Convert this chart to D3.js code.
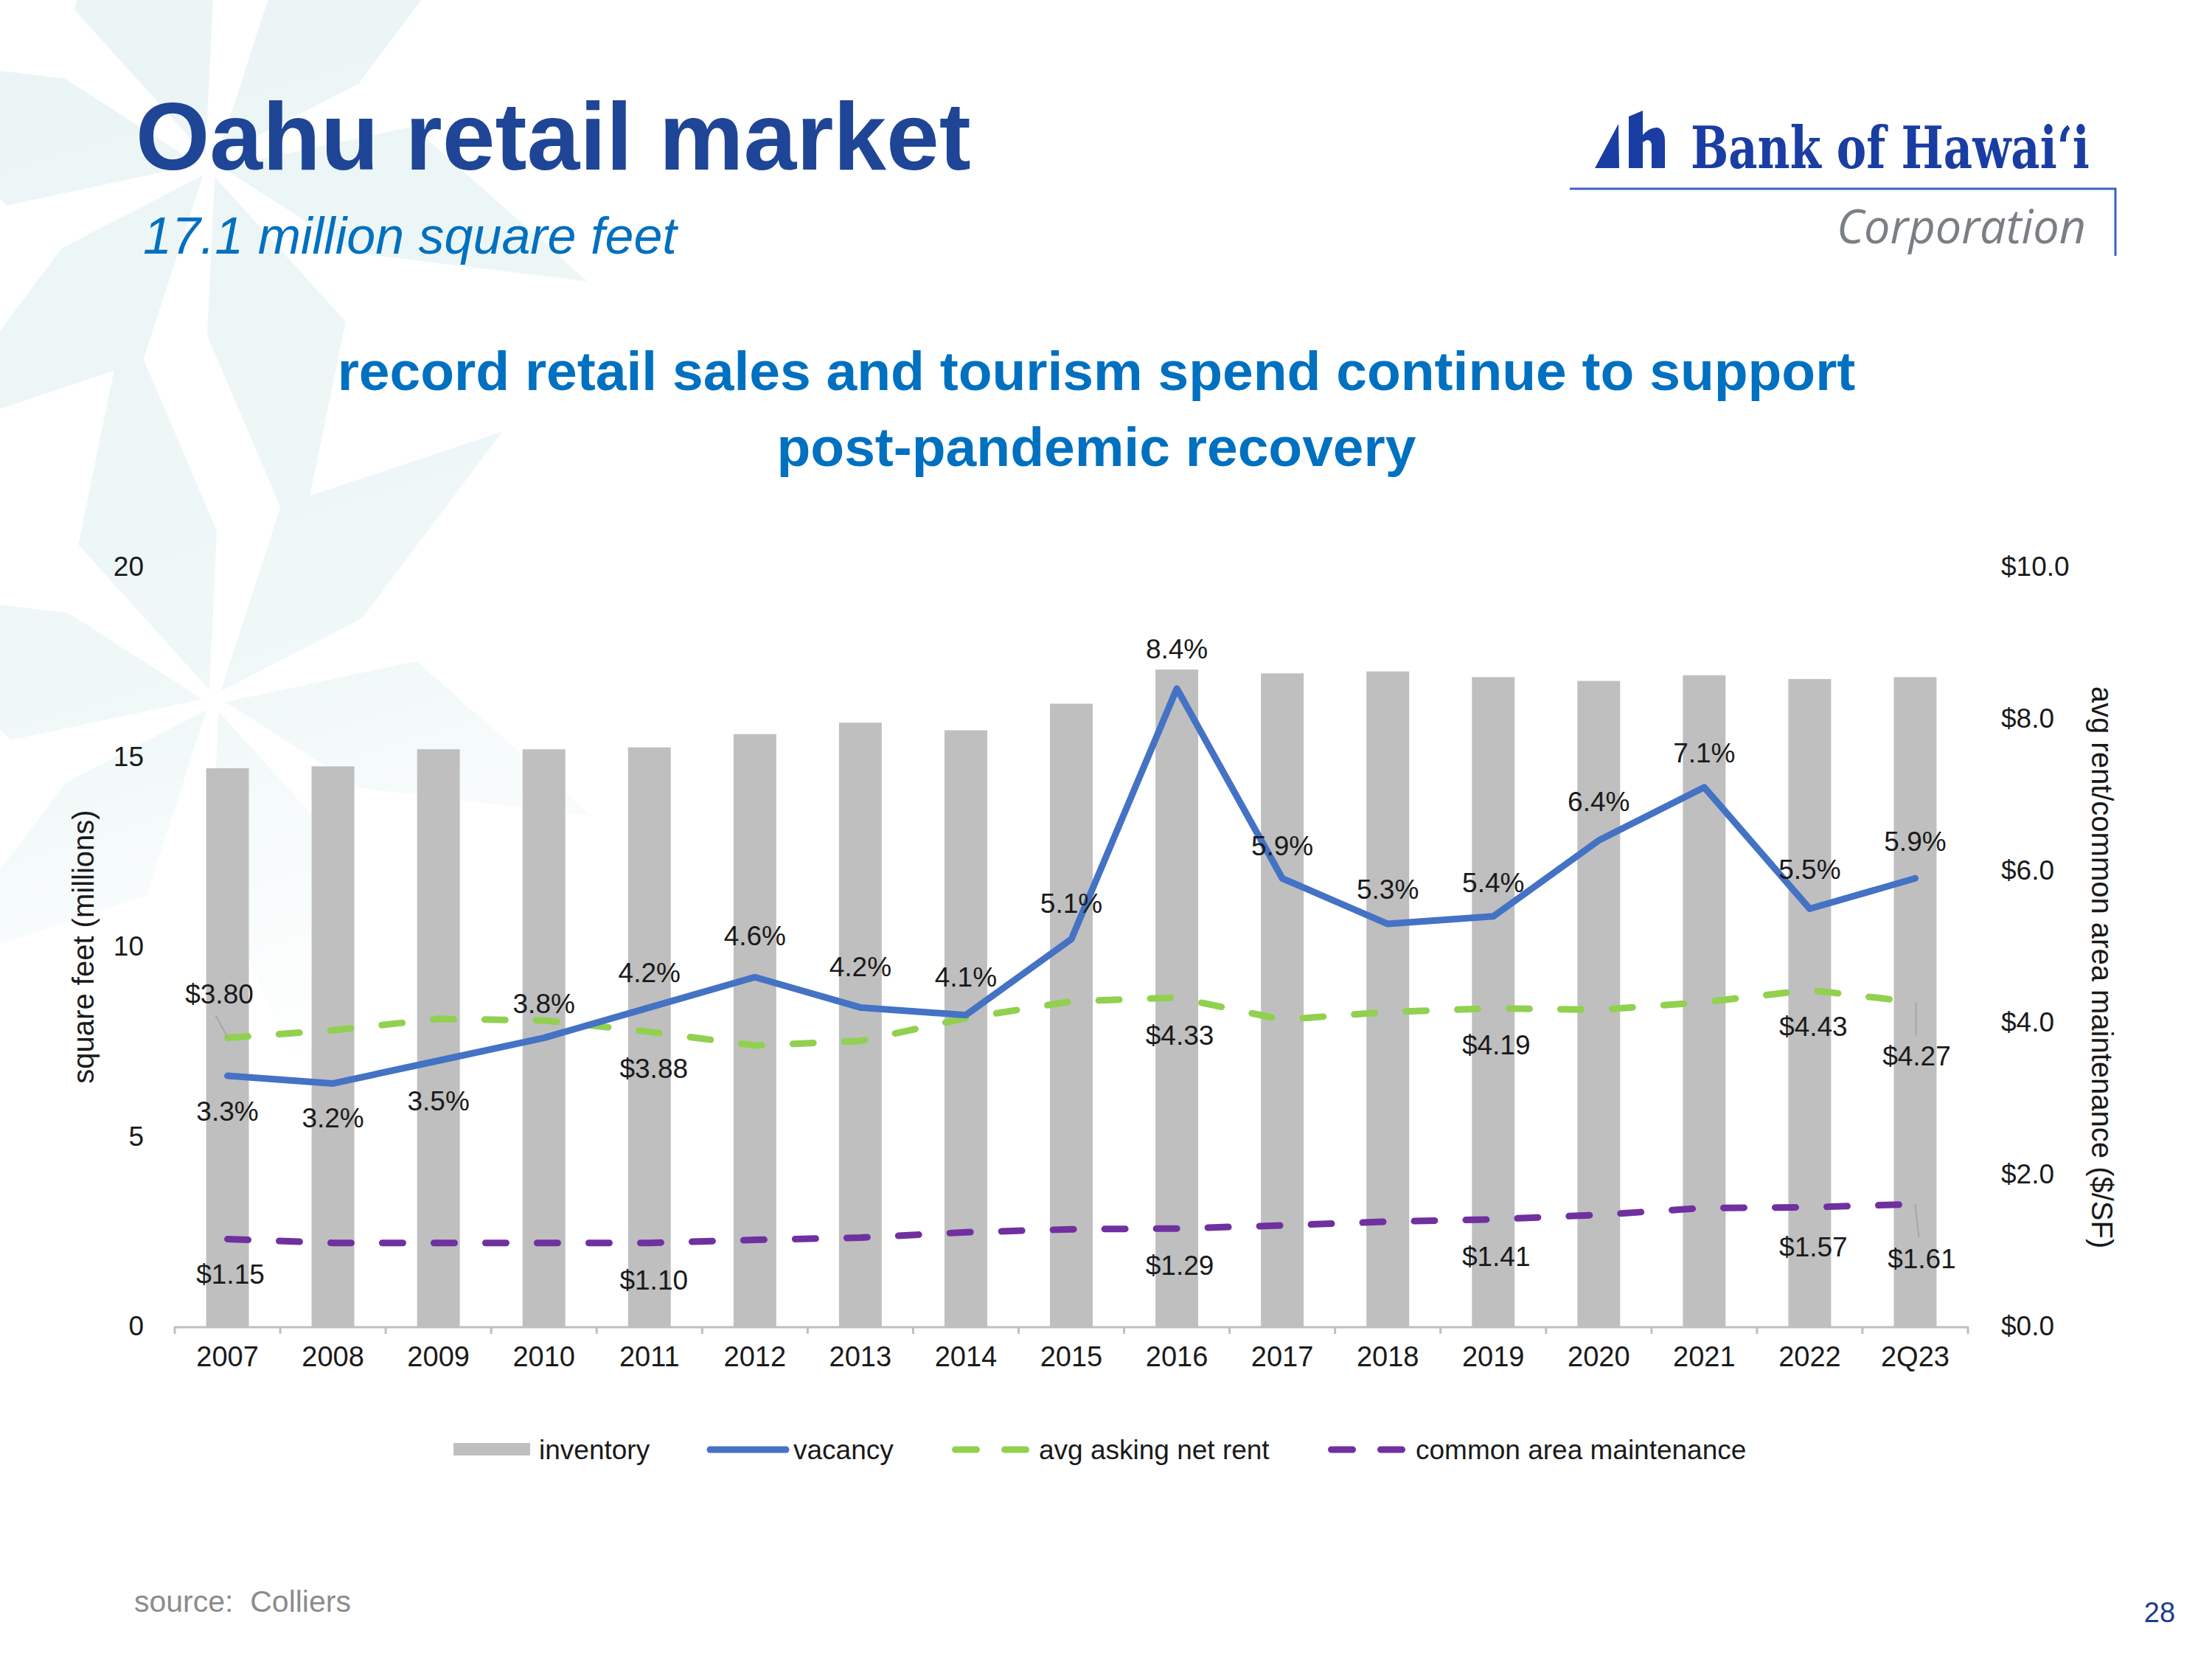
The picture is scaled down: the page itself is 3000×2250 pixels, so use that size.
<!DOCTYPE html>
<html>
<head>
<meta charset="utf-8">
<script src="https://cdn.jsdelivr.net/npm/d3@7"></script>
<style>
  html, body { margin: 0; padding: 0; background: #ffffff; }
  svg { display: block; }
  text { font-family: "Liberation Sans", Arial, sans-serif; }
</style>
</head>
<body>
<svg id="chart" width="3000" height="2250"></svg>
<script>
// ---------------- data ----------------
const categories = ["2007","2008","2009","2010","2011","2012","2013","2014","2015","2016","2017","2018","2019","2020","2021","2022","2Q23"];
const inventory  = [14.7, 14.75, 15.2, 15.2, 15.25, 15.6, 15.9, 15.7, 16.4, 17.3, 17.2, 17.25, 17.1, 17.0, 17.15, 17.05, 17.1];
const vacancy    = [3.3, 3.2, 3.5, 3.8, 4.2, 4.6, 4.2, 4.1, 5.1, 8.4, 5.9, 5.3, 5.4, 6.4, 7.1, 5.5, 5.9];
const askingRent = [3.80, 3.90, 4.05, 4.03, 3.88, 3.70, 3.76, 4.06, 4.28, 4.33, 4.04, 4.14, 4.19, 4.17, 4.27, 4.43, 4.27];
const camCost    = [1.15, 1.10, 1.10, 1.10, 1.10, 1.14, 1.17, 1.24, 1.28, 1.29, 1.33, 1.38, 1.41, 1.47, 1.56, 1.57, 1.61];
const labeledIdx = [0, 4, 9, 12, 15, 16];
const leftTicks  = [0, 5, 10, 15, 20];
const rightTicks = [0, 2, 4, 6, 8, 10];
const legendNames = ["inventory", "vacancy", "avg asking net rent", "common area maintenance"];

// ---------------- layout (not data) ----------------
const vacLabelDy  = [48, 47, 55, -46, -47, -56, -55, -51, -48, -53, -44, -47, -45, -52, -46, -53, -50];
const rentLabelOff = {0: [-11, -59], 4: [6, 50], 9: [4, 51], 12: [4, 50], 15: [5, 50], 16: [2, 73]};
const camLabelOff  = {0: [4, 48], 4: [6, 51], 9: [4, 50], 12: [4, 51], 15: [5, 54], 16: [9, 74]};

const C = {
  bar: "#bfbfbf", vac: "#4472c4", rent: "#92d050", cam: "#7030a0",
  title: "#1f4597", sub: "#0070c0", axis: "#bfbfbf", text: "#1a1a1a",
  logo: "#1a3da3"
};

const svg = d3.select("#chart");
const defs = svg.append("defs");

// ---------------- background star pattern ----------------
const fade = defs.append("linearGradient").attr("id", "fadeGrad")
  .attr("gradientUnits", "userSpaceOnUse").attr("x1", 0).attr("y1", 0).attr("x2", 450).attr("y2", 1450);
fade.append("stop").attr("offset", "0%").attr("stop-color", "#fff").attr("stop-opacity", 1);
fade.append("stop").attr("offset", "60%").attr("stop-color", "#fff").attr("stop-opacity", 0.8);
fade.append("stop").attr("offset", "100%").attr("stop-color", "#fff").attr("stop-opacity", 0);
defs.append("mask").attr("id", "fadeMask")
  .append("rect").attr("x", 0).attr("y", 0).attr("width", 1200).attr("height", 1700).attr("fill", "url(#fadeGrad)");

const bg = svg.append("g").attr("mask", "url(#fadeMask)");
function star(cx, cy) {
  d3.range(6).forEach(k => {
    const th = -67 + k * 60;
    const p = (ang, r) => [cx + r * Math.cos(ang * Math.PI / 180), cy + r * Math.sin(ang * Math.PI / 180)];
    const pts = [p(th + 14, 16), p(th - 4, 280), p(th + 24, 535), p(th + 38, 230)];
    bg.append("path").attr("d", d3.line()(pts) + "Z").attr("fill", "#ebf5f5");
  });
}
star(285, 225);
star(290, 950);

// ---------------- header ----------------
svg.append("text").attr("x", 184).attr("y", 230)
  .attr("font-size", 129).attr("font-weight", "bold").attr("fill", C.title)
  .text("Oahu retail market");
svg.append("text").attr("x", 194).attr("y", 344)
  .attr("font-size", 70).attr("font-style", "italic").attr("fill", C.sub)
  .text("17.1 million square feet");
svg.append("text").attr("x", 1487).attr("y", 529).attr("text-anchor", "middle")
  .attr("font-size", 75).attr("font-weight", "bold").attr("fill", C.sub)
  .text("record retail sales and tourism spend continue to support");
svg.append("text").attr("x", 1487).attr("y", 632).attr("text-anchor", "middle")
  .attr("font-size", 75).attr("font-weight", "bold").attr("fill", C.sub)
  .text("post-pandemic recovery");

// ---------------- logo ----------------
const logo = svg.append("g");
logo.append("path").attr("fill", C.logo)
  .attr("d", "M2163,228 L2195,168 L2196,228 Z");
logo.append("path").attr("fill", C.logo)
  .attr("d", "M2209,158 L2228,150 L2228,183 Q2238,172 2248,173 Q2258,176 2258,192 L2258,228 L2240,228 L2240,198 Q2240,189 2233,190 L2228,193 L2228,228 L2209,228 Z");
const bank = logo.append("text").attr("x", 0).attr("y", 0)
  .attr("font-size", 78).attr("font-weight", "bold").attr("fill", C.logo)
  .style("font-family", "'DejaVu Serif', 'Liberation Serif', serif")
  .text("Bank of Hawaiʻi");
{
  const w = bank.node().getComputedTextLength();
  bank.attr("transform", `translate(2293,228) scale(${541 / w},1)`);
}
logo.append("path").attr("fill", "none").attr("stroke", "#3a63c2").attr("stroke-width", 3)
  .attr("d", "M2129,256 L2869,256 L2869,347");
const corp = logo.append("text").attr("x", 0).attr("y", 0).attr("text-anchor", "end")
  .attr("font-size", 64).attr("font-style", "italic").attr("fill", "#7a7f84")
  .style("font-family", "'Open Sans', 'Noto Sans', sans-serif")
  .text("Corporation");
{
  const w = corp.node().getComputedTextLength();
  corp.attr("transform", `translate(2829,330) scale(${338 / w},1)`);
}

// ---------------- scales ----------------
const plotLeft = 237, plotRight = 2669, plotTop = 769, plotBottom = 1799;
const x = d3.scaleBand().domain(categories).range([plotLeft, plotRight])
  .paddingInner(0.595).paddingOuter(0.2975);
const cx = d => x(d) + x.bandwidth() / 2;
const yL = d3.scaleLinear().domain([0, 20]).range([plotBottom, plotTop]);
const yR = d3.scaleLinear().domain([0, 10]).range([plotBottom, plotTop]);

// ---------------- axes ----------------
const fs = 37;
const leftAxis = svg.append("g").attr("transform", `translate(${plotLeft - 42},0)`)
  .call(d3.axisLeft(yL).tickValues(leftTicks).tickSize(0).tickPadding(0).tickFormat(d3.format("d")));
leftAxis.select(".domain").remove();
leftAxis.selectAll("text").attr("font-size", fs).attr("fill", C.text)
  .style("font-family", "'Liberation Sans', Arial, sans-serif");

const rightAxis = svg.append("g").attr("transform", `translate(${plotRight + 45},0)`)
  .call(d3.axisRight(yR).tickValues(rightTicks).tickSize(0).tickPadding(0).tickFormat(d => "$" + d3.format(".1f")(d)));
rightAxis.select(".domain").remove();
rightAxis.selectAll("text").attr("font-size", fs).attr("fill", C.text)
  .style("font-family", "'Liberation Sans', Arial, sans-serif");

svg.append("text")
  .attr("transform", `translate(113,1284) rotate(-90)`)
  .attr("text-anchor", "middle").attr("dominant-baseline", "central")
  .attr("font-size", 40).attr("fill", C.text)
  .text("square feet (millions)");
svg.append("text")
  .attr("transform", `translate(2851,1312) rotate(90)`)
  .attr("text-anchor", "middle").attr("dominant-baseline", "central")
  .attr("font-size", 40).attr("fill", C.text)
  .text("avg rent/common area maintenance ($/SF)");

// ---------------- bars ----------------
svg.append("g").selectAll("rect").data(categories).join("rect")
  .attr("x", d => x(d)).attr("width", x.bandwidth())
  .attr("y", (d, i) => yL(inventory[i]))
  .attr("height", (d, i) => yL(0) - yL(inventory[i]))
  .attr("fill", C.bar);

// x axis line + boundary ticks
const xAxisG = svg.append("g");
xAxisG.append("line").attr("x1", plotLeft).attr("x2", plotRight)
  .attr("y1", plotBottom + 1).attr("y2", plotBottom + 1)
  .attr("stroke", C.axis).attr("stroke-width", 3);
const bounds = categories.map(d => x(d) - (x.step() - x.bandwidth()) / 2).concat([plotRight]);
xAxisG.selectAll("line.tk").data(bounds).join("line").attr("class", "tk")
  .attr("x1", d => d).attr("x2", d => d)
  .attr("y1", plotBottom).attr("y2", plotBottom + 10)
  .attr("stroke", C.axis).attr("stroke-width", 3);
xAxisG.selectAll("text").data(categories).join("text")
  .attr("x", d => cx(d)).attr("y", 1853).attr("text-anchor", "middle")
  .attr("font-size", 38).attr("fill", C.text).text(d => d);

// ---------------- lines ----------------
const lineGen = (vals) => d3.line().x((v, i) => cx(categories[i])).y(v => yR(v))(vals);

svg.append("path").attr("d", lineGen(camCost)).attr("fill", "none")
  .attr("stroke", C.cam).attr("stroke-width", 9).attr("stroke-linecap", "round")
  .attr("stroke-dasharray", "28,42");
svg.append("path").attr("d", lineGen(askingRent)).attr("fill", "none")
  .attr("stroke", C.rent).attr("stroke-width", 9).attr("stroke-linecap", "round")
  .attr("stroke-dasharray", "28,42");
svg.append("path").attr("d", lineGen(vacancy)).attr("fill", "none")
  .attr("stroke", C.vac).attr("stroke-width", 9).attr("stroke-linejoin", "round").attr("stroke-linecap", "round");

// ---------------- data labels ----------------
const lbl = svg.append("g").attr("font-size", fs).attr("fill", C.text)
  .attr("text-anchor", "middle").attr("dominant-baseline", "central");

lbl.selectAll("text.vac").data(vacancy).join("text").attr("class", "vac")
  .attr("x", (v, i) => cx(categories[i]))
  .attr("y", (v, i) => yR(v) + vacLabelDy[i])
  .text(v => d3.format(".1f")(v) + "%");

labeledIdx.forEach(i => {
  const px = cx(categories[i]);
  const rOff = rentLabelOff[i];
  lbl.append("text").attr("x", px + rOff[0]).attr("y", yR(askingRent[i]) + rOff[1])
    .text("$" + d3.format(".2f")(askingRent[i]));
  const cOff = camLabelOff[i];
  lbl.append("text").attr("x", px + cOff[0]).attr("y", yR(camCost[i]) + cOff[1])
    .text("$" + d3.format(".2f")(camCost[i]));
});

// leader lines
const lead = svg.append("g").attr("stroke", "#a6a6a6").attr("stroke-width", 2);
{
  const p0 = cx(categories[0]), y0 = yR(askingRent[0]);
  lead.append("line").attr("x1", p0 - 16).attr("y1", y0 - 30).attr("x2", p0).attr("y2", y0 - 1);
  const pn = cx(categories[16]), yr = yR(askingRent[16]), yc = yR(camCost[16]);
  lead.append("line").attr("x1", pn + 1).attr("y1", yr).attr("x2", pn + 1).attr("y2", yr + 45);
  lead.append("line").attr("x1", pn).attr("y1", yc).attr("x2", pn + 5).attr("y2", yc + 45);
}

// ---------------- legend ----------------
const lg = svg.append("g");
const ly = 1966;
lg.append("rect").attr("x", 615).attr("y", ly - 9).attr("width", 104).attr("height", 17).attr("fill", C.bar);
lg.append("line").attr("x1", 963).attr("x2", 1066).attr("y1", ly).attr("y2", ly)
  .attr("stroke", C.vac).attr("stroke-width", 9).attr("stroke-linecap", "round");
lg.append("line").attr("x1", 1295.5).attr("x2", 1394.5).attr("y1", ly).attr("y2", ly)
  .attr("stroke", C.rent).attr("stroke-width", 9).attr("stroke-linecap", "round").attr("stroke-dasharray", "29,38");
lg.append("line").attr("x1", 1805.5).attr("x2", 1904.5).attr("y1", ly).attr("y2", ly)
  .attr("stroke", C.cam).attr("stroke-width", 9).attr("stroke-linecap", "round").attr("stroke-dasharray", "29,38");
const legendX = [731, 1076, 1409, 1920];
lg.selectAll("text").data(legendNames).join("text")
  .attr("x", (d, i) => legendX[i]).attr("y", ly).attr("dominant-baseline", "central")
  .attr("font-size", fs).attr("fill", C.text).text(d => d);

// ---------------- footer ----------------
svg.append("text").attr("x", 182).attr("y", 2186).attr("font-size", 41).attr("fill", "#8c8c8c")
  .attr("xml:space", "preserve").style("white-space", "pre")
  .text("source:  Colliers");
svg.append("text").attr("x", 2929).attr("y", 2200).attr("text-anchor", "middle")
  .attr("font-size", 38).attr("fill", "#1d3c8c").text("28");
</script>
</body>
</html>
